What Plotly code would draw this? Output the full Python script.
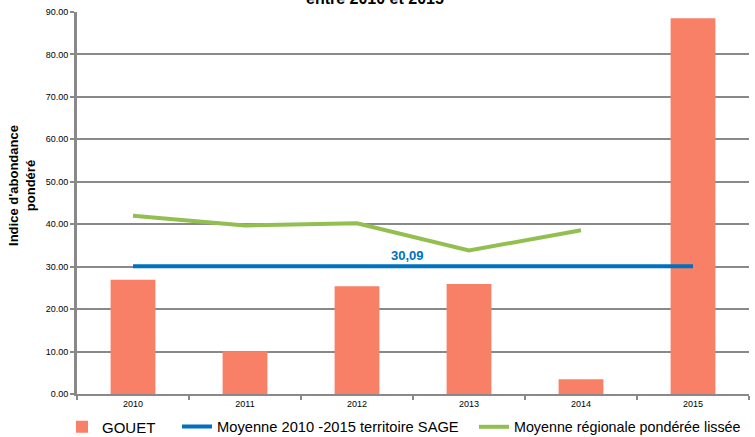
import plotly.graph_objects as go

years = ["2010", "2011", "2012", "2013", "2014", "2015"]
gouet = [26.9, 10.1, 25.4, 25.9, 3.5, 88.5]
moyenne_sage = [30.09, 30.09, 30.09, 30.09, 30.09, 30.09]
regionale = [42.0, 39.7, 40.2, 33.8, 38.6]
region_years = years[:5]
yticks = [0, 10, 20, 30, 40, 50, 60, 70, 80, 90]

W, H = 755, 437

fig = go.Figure()
fig.add_trace(go.Bar(x=years, y=gouet, name="GOUET", legend="legend",
                     marker=dict(color="#F88066", line=dict(width=0))))
fig.add_trace(go.Scatter(x=years, y=moyenne_sage, mode="lines", name="Moyenne 2010 -2015 territoire SAGE",
                         legend="legend2", line=dict(color="#0070C0", width=4)))
fig.add_trace(go.Scatter(x=region_years, y=regionale, mode="lines", name="Moyenne régionale pondérée lissée",
                         legend="legend3", line=dict(color="#92BF4F", width=4)))

fig.add_annotation(x=2.45, y=30.09, text="<b>30,09</b>", showarrow=False, yshift=11,
                   font=dict(color="#0070C0", size=13, family="Liberation Sans"))
fig.add_annotation(xref="paper", yref="paper", x=0.443, y=1.0, yshift=3, yanchor="bottom",
                   text="<b>entre 2010 et 2015</b>",
                   showarrow=False, font=dict(size=16, color="black", family="Liberation Sans"))
fig.add_annotation(xref="paper", yref="paper", x=-0.082, y=0.547, xanchor="center", yanchor="middle",
                   text="<b>Indice d'abondance<br>pondéré</b>", textangle=-90, showarrow=False,
                   font=dict(size=13, color="black", family="Liberation Sans"))

leg_common = dict(orientation="h", xref="container", yref="container", y=(H - 427) / H,
                  yanchor="middle", xanchor="left", itemwidth=30, bgcolor="rgba(0,0,0,0)")

fig.update_layout(
    width=W, height=H,
    margin=dict(l=77, r=6, t=12, b=43, autoexpand=False),
    plot_bgcolor="white", paper_bgcolor="white",
    bargap=0.6,
    font=dict(family="Liberation Sans", color="black"),
    showlegend=True,
    legend=dict(x=62 / W, font=dict(size=15), **leg_common),
    legend2=dict(x=177 / W, font=dict(size=14.7), **leg_common),
    legend3=dict(x=474 / W, font=dict(size=14.3), **leg_common),
    xaxis=dict(type="category", showgrid=False, showline=True, linecolor="#898989", linewidth=2,
               ticks="outside", tickson="boundaries", tickcolor="#898989", ticklen=4, tickwidth=2,
               tickfont=dict(size=9), range=[-0.5, 5.5], automargin=False),
    yaxis=dict(range=[0, 90], tickvals=yticks, tickformat=".2f", showgrid=True, gridcolor="#898989",
               gridwidth=2, showline=True, linecolor="#898989", linewidth=3, ticks="outside",
               tickcolor="#898989", ticklen=4, tickwidth=2, tickfont=dict(size=9), zeroline=False,
               automargin=False),
)

fig.write_html("out.html", config={"displayModeBar": False},
               post_script="document.body.style.margin='0';document.body.style.overflow='hidden';")
